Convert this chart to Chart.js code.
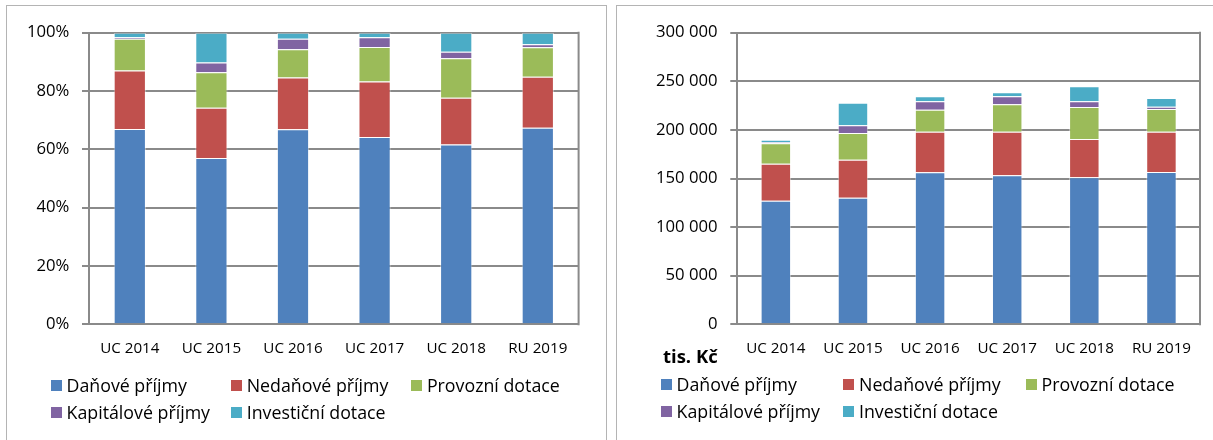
<!DOCTYPE html>
<html>
<head>
<meta charset="utf-8">
<script src="https://cdn.jsdelivr.net/npm/chart.js@4.4.1/dist/chart.umd.min.js"></script>
<style>
  html, body { margin: 0; padding: 0; background: #fff; width: 1213px; height: 440px; overflow: hidden; }
  body { position: relative; font-family: 'Open Sans', sans-serif; color: #000; }
  .box { position: absolute; border: 1.5px solid #b4b4b4; background: #fff; box-sizing: border-box; }
  .cv { position: absolute; top: 0; }
  .leg { position: absolute; display: flex; align-items: center; font-size: 17.8px; line-height: 20px; height: 20px; white-space: nowrap; }
  .leg i { display: inline-block; width: 11px; height: 11px; margin-right: 5px; }
  .unit { position: absolute; font-weight: 700; font-size: 18.5px; line-height: 20px; white-space: nowrap; }
</style>
</head>
<body>
<div class="box" style="left:6px; top:5px; width:601px; height:460px;"></div>
<div class="box" style="left:616px; top:5px; width:620px; height:460px;"></div>
<div class="cv" style="left:0; width:607px; height:440px;"><canvas id="left" width="607" height="440"></canvas></div>
<div class="cv" style="left:607px; width:606px; height:440px;"><canvas id="right" width="606" height="440"></canvas></div>
<div class="unit" style="left:663px; top:346px;">tis. Kč</div>
<div id="legends"></div>
<script>
// ---- data ----
const categories = ['UC 2014', 'UC 2015', 'UC 2016', 'UC 2017', 'UC 2018', 'RU 2019'];
const seriesNames = ['Daňové příjmy', 'Nedaňové příjmy', 'Provozní dotace', 'Kapitálové příjmy', 'Investiční dotace'];
const seriesColors = ['#4F81BD', '#C0504D', '#9BBB59', '#8064A2', '#4BACC6'];

// left chart: shares in %
const sharesDanove     = [67.0, 57.0, 66.9, 64.2, 61.7, 67.4];
const sharesNedanove   = [20.0, 17.3, 17.7, 19.1, 16.0, 17.5];
const sharesProvozni   = [10.9, 12.1,  9.7, 11.8, 13.5, 10.1];
const sharesKapitalove = [ 0.5,  3.4,  3.6,  3.3,  2.3,  1.0];
const sharesInvesticni = [ 1.6, 10.2,  2.1,  1.6,  6.5,  4.0];

// right chart: tis. Kč
const valuesDanove     = [127200, 130300, 156400, 153300, 151200, 156700];
const valuesNedanove   = [ 38000,  39000,  41800,  44900,  39400,  41500];
const valuesProvozni   = [ 21000,  27500,  22600,  28200,  32900,  23300];
const valuesKapitalove = [  1000,   7900,   8600,   8200,   5900,   2400];
const valuesInvesticni = [  2700,  23300,   5200,   4100,  15400,   9000];

const leftTicks  = [0, 20, 40, 60, 80, 100];
const rightTicks = [0, 50000, 100000, 150000, 200000, 250000, 300000];

const unitLabel = 'tis. Kč';

// ---- helpers ----
const leftSeries  = [sharesDanove, sharesNedanove, sharesProvozni, sharesKapitalove, sharesInvesticni];
const rightSeries = [valuesDanove, valuesNedanove, valuesProvozni, valuesKapitalove, valuesInvesticni];

function makeDatasets(series) {
  return series.map((d, i) => ({
    label: seriesNames[i],
    data: d,
    backgroundColor: seriesColors[i],
    borderColor: 'rgba(255,255,255,0.45)',
    borderWidth: 1,
    barPercentage: 0.395,
    categoryPercentage: 1.0
  }));
}

function fmtThousands(v) {
  return String(v).replace(/\B(?=(\d{3})+(?!\d))/g, ' ');
}

const GRID = '#8a8a8a';

const rightBorder = {
  id: 'rightBorder',
  afterDatasetsDraw(chart) {
    const { ctx, chartArea: a } = chart;
    ctx.save();
    ctx.strokeStyle = GRID;
    ctx.lineWidth = 2;
    ctx.beginPath();
    ctx.moveTo(a.right, a.top - 1);
    ctx.lineTo(a.right, a.bottom + 1);
    ctx.stroke();
    ctx.restore();
  }
};

function makeChart(id, series, ticks, fmt, yWidth, padRight) {
  return new Chart(document.getElementById(id), {
    type: 'bar',
    data: { labels: categories, datasets: makeDatasets(series) },
    plugins: [rightBorder],
    options: {
      responsive: false,
      animation: false,
      events: [],
      layout: { padding: { left: 0, right: padRight, top: 32.7, bottom: 0 } },
      plugins: { legend: { display: false }, tooltip: { enabled: false }, title: { display: false } },
      scales: {
        x: {
          stacked: true,
          grid: { display: false, drawTicks: false },
          border: { display: true, color: GRID, width: 2 },
          ticks: { color: '#000', font: { family: "'Open Sans'", size: 15.2 }, padding: 15, maxRotation: 0 },
          afterFit(s) { s.height = 440 - 324.3; }
        },
        y: {
          stacked: true,
          min: ticks[0],
          max: ticks[ticks.length - 1],
          afterBuildTicks(s) { s.ticks = ticks.map(v => ({ value: v })); },
          grid: { color: GRID, lineWidth: 2, tickLength: 7, drawTicks: true },
          border: { display: true, color: GRID, width: 2 },
          ticks: { color: '#000', font: { family: "'Open Sans'", size: 16.7 }, padding: 12.7, callback: fmt },
          afterFit(s) { s.width = yWidth; }
        }
      }
    }
  });
}

function buildLegend(x0, colStep, rowTops) {
  const host = document.getElementById('legends');
  seriesNames.forEach((name, i) => {
    const col = i % 3, row = Math.floor(i / 3);
    const el = document.createElement('div');
    el.className = 'leg';
    el.style.left = (x0 + col * colStep) + 'px';
    el.style.top = rowTops[row] + 'px';
    const sq = document.createElement('i');
    sq.style.background = seriesColors[i];
    el.appendChild(sq);
    el.appendChild(document.createTextNode(name));
    host.appendChild(el);
  });
}

function draw() {
  makeChart('left', leftSeries, leftTicks, v => v + '%', 89, 607 - 578.6);
  makeChart('right', rightSeries, rightTicks, v => fmtThousands(v), 130.3, 606 - 593);
  buildLegend(50.5, 180.2, [375, 402]);
  buildLegend(660.5, 182.5, [374, 401]);
}

Promise.all([
  document.fonts.load("16px 'Open Sans'"),
  document.fonts.load("bold 16px 'Open Sans'")
]).then(draw, draw);
</script>
</body>
</html>
